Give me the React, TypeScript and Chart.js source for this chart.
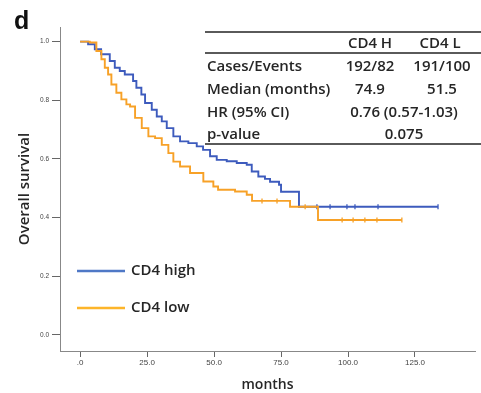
import React, { useEffect, useRef } from "react";
import { Chart, registerables } from "chart.js";

Chart.register(...registerables);

// Kaplan-Meier step points (months, survival)
const highTimes = [0, 2.99, 5.49, 7.84, 11.08, 12.95, 14.81, 16.68, 19.78, 21.01, 22.87, 24.25, 26.75, 28.62, 30.49, 32.35, 34.81, 37.31, 40.41, 43.54, 45.9, 48.51, 51.0, 54.74, 58.47, 62.2, 64.07, 66.53, 69.0, 70.9, 74.25, 75.0, 81.7, 133.6];
const highSurv = [1.0, 0.991, 0.974, 0.957, 0.934, 0.911, 0.9, 0.888, 0.866, 0.843, 0.82, 0.791, 0.768, 0.745, 0.728, 0.705, 0.677, 0.66, 0.654, 0.643, 0.631, 0.609, 0.597, 0.592, 0.586, 0.58, 0.557, 0.54, 0.532, 0.522, 0.512, 0.488, 0.437, 0.437];
const lowTimes = [0, 3.62, 6.08, 7.95, 9.22, 10.45, 11.68, 13.54, 15.41, 17.28, 18.66, 20.52, 23.02, 25.49, 27.99, 30.49, 32.95, 34.81, 37.31, 41.04, 46.0, 49.74, 51.5, 57.84, 62.2, 64.18, 78.36, 88.8, 120.1];
const lowSurv = [1.0, 0.997, 0.968, 0.94, 0.911, 0.888, 0.854, 0.826, 0.803, 0.786, 0.779, 0.74, 0.705, 0.677, 0.671, 0.648, 0.62, 0.591, 0.574, 0.552, 0.523, 0.506, 0.495, 0.489, 0.478, 0.457, 0.437, 0.392, 0.392];
const highCensorTimes = [88.4, 93.3, 99.6, 102.6, 111.2, 133.6];
const highCensorSurv = [0.437, 0.437, 0.437, 0.437, 0.437, 0.437];
const lowCensorTimes = [67.9, 73.5, 84.0, 97.8, 101.9, 106.3, 110.8, 120.1];
const lowCensorSurv = [0.457, 0.457, 0.437, 0.392, 0.392, 0.392, 0.392, 0.392];

const xTicks = [0, 25, 50, 75, 100, 125];
const yTicks = [0, 0.2, 0.4, 0.6, 0.8, 1.0];

const seriesLabels = ["CD4 high", "CD4 low"];
const tableHeader = ["CD4 H", "CD4 L"];
const tableRowLabels = ["Cases/Events", "Median (months)"];
const tableHigh = ["192/82", "74.9"];
const tableLow = ["191/100", "51.5"];
const spanRowLabels = ["HR (95% CI)", "p-value"];
const spanRowValues = ["0.76 (0.57-1.03)", "0.075"];

const BLUE = "#3d5bbd";
const ORANGE = "#f7a127";
const LEGEND_BLUE = "#4f78c6";
const LEGEND_ORANGE = "#fdb52a";
const TEXT = "#262626";
const FONT = "'Open Sans', Lato, sans-serif";

const toPts = (xs: number[], ys: number[]) => xs.map((x, i) => ({ x, y: ys[i] }));

const overlay = {
  id: "overlay",
  afterDraw(chart: any) {
    const ctx = chart.ctx as CanvasRenderingContext2D;
    ctx.save();
    // panel label
    ctx.fillStyle = "#111";
    ctx.font = "bold 25px Arial, 'Liberation Sans', sans-serif";
    ctx.textAlign = "left";
    ctx.textBaseline = "alphabetic";
    ctx.fillText("d", 14, 29);

    // table
    ctx.strokeStyle = "#5a5a5a";
    ctx.lineWidth = 2;
    const lines = [32, 53, 144];
    lines.forEach((y) => {
      ctx.beginPath();
      ctx.moveTo(205, y);
      ctx.lineTo(481, y);
      ctx.stroke();
    });
    ctx.fillStyle = TEXT;
    ctx.font = `600 15px ${FONT}`;
    ctx.textBaseline = "middle";
    ctx.textAlign = "center";
    ctx.fillText(tableHeader[0], 370, 44);
    ctx.fillText(tableHeader[1], 440, 44);
    const rowY = [67, 90, 113, 135];
    tableRowLabels.forEach((lab, i) => {
      ctx.textAlign = "left";
      ctx.fillText(lab, 207, rowY[i]);
      ctx.textAlign = "center";
      ctx.fillText(tableHigh[i], 370, rowY[i]);
      ctx.fillText(tableLow[i], 442, rowY[i]);
    });
    spanRowLabels.forEach((lab, i) => {
      ctx.textAlign = "left";
      ctx.fillText(lab, 207, rowY[i + 2]);
      ctx.textAlign = "center";
      ctx.fillText(spanRowValues[i], 404, rowY[i + 2]);
    });

    // legend
    const legendColors = [LEGEND_BLUE, LEGEND_ORANGE];
    const legendY = [271, 308];
    ctx.lineWidth = 2.5;
    seriesLabels.forEach((lab, i) => {
      ctx.strokeStyle = legendColors[i];
      ctx.beginPath();
      ctx.moveTo(77, legendY[i]);
      ctx.lineTo(125, legendY[i]);
      ctx.stroke();
      ctx.fillStyle = TEXT;
      ctx.textAlign = "left";
      ctx.fillText(lab, 131, legendY[i]);
    });
    ctx.restore();
  },
};

export default function App() {
  const ref = useRef<HTMLCanvasElement | null>(null);
  useEffect(() => {
    document.body.style.margin = "0";
    if (!ref.current) return;
    const chart = new Chart(ref.current, {
      type: "line",
      data: {
        datasets: [
          {
            label: seriesLabels[1],
            data: toPts(lowTimes, lowSurv),
            borderColor: ORANGE,
            borderWidth: 1.9,
            stepped: "before",
            pointRadius: 0,
            fill: false,
          },
          {
            label: seriesLabels[1] + " censored",
            data: toPts(lowCensorTimes, lowCensorSurv),
            showLine: false,
            borderColor: ORANGE,
            backgroundColor: ORANGE,
            pointStyle: "line",
            rotation: 90,
            pointRadius: 2.5,
            borderWidth: 1.3,
          },
          {
            label: seriesLabels[0],
            data: toPts(highTimes, highSurv),
            borderColor: BLUE,
            borderWidth: 1.9,
            stepped: "before",
            pointRadius: 0,
            fill: false,
          },
          {
            label: seriesLabels[0] + " censored",
            data: toPts(highCensorTimes, highCensorSurv),
            showLine: false,
            borderColor: BLUE,
            backgroundColor: BLUE,
            pointStyle: "line",
            rotation: 90,
            pointRadius: 2.5,
            borderWidth: 1.3,
          },
        ] as any,
      },
      options: {
        animation: false,
        responsive: false,
        maintainAspectRatio: false,
        layout: { padding: { top: 27, right: 6, left: 0, bottom: 0 } },
        plugins: { legend: { display: false }, tooltip: { enabled: false } },
        scales: {
          x: {
            type: "linear",
            min: -7.5,
            max: 147.4,
            afterFit: (s: any) => { s.height = 42; },
            afterBuildTicks: (s: any) => { s.ticks = xTicks.map((v) => ({ value: v })); },
            ticks: {
              font: { size: 8, family: "Arial" },
              color: "#444",
              padding: 1,
              maxRotation: 0,
              callback: (v: any) => (v === 0 ? ".0" : Number(v).toFixed(1)),
            },
            grid: { drawOnChartArea: false, drawTicks: true, tickLength: 6, color: "#666" },
            border: { display: true, color: "#888", width: 1 },
            title: {
              display: true,
              text: "months",
              font: { size: 14, weight: "600", family: FONT },
              color: TEXT,
              padding: { top: 0, bottom: 0 },
            },
          },
          y: {
            type: "linear",
            min: -0.055,
            max: 1.05,
            afterFit: (s: any) => { s.width = 60; },
            afterBuildTicks: (s: any) => { s.ticks = yTicks.map((v) => ({ value: v })); },
            ticks: {
              font: { size: 6.5, family: "Arial" },
              color: "#444",
              padding: 3,
              callback: (v: any) => Number(v).toFixed(1),
            },
            grid: { drawOnChartArea: false, drawTicks: true, tickLength: 8, color: "#666" },
            border: { display: true, color: "#888", width: 1 },
            title: {
              display: true,
              text: "Overall survival",
              font: { size: 15, weight: "600", family: FONT },
              color: TEXT,
              padding: { top: 16, bottom: 0 },
            },
          },
        },
      },
      plugins: [overlay],
    });
    return () => chart.destroy();
  }, []);
  return (
    <div style={{ width: 481, height: 393, background: "#fff" }}>
      <canvas ref={ref} width={481} height={393} style={{ display: "block" }} />
    </div>
  );
}
